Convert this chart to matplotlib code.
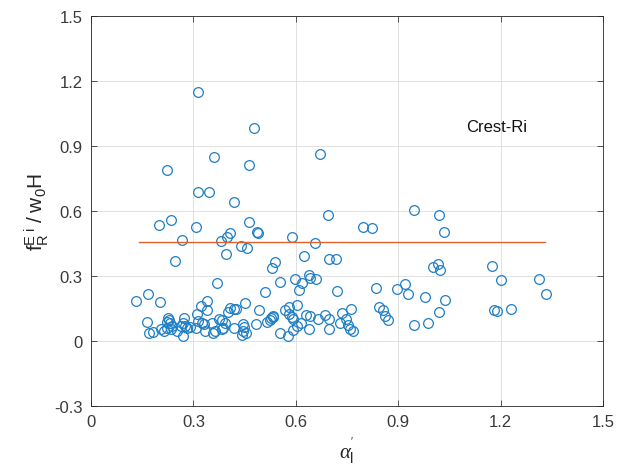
import matplotlib
matplotlib.use('Agg')
import matplotlib.pyplot as plt

plt.rcParams['font.family'] = ['Liberation Sans', 'DejaVu Sans']
plt.rcParams['mathtext.fontset'] = 'custom'
plt.rcParams['mathtext.rm'] = 'Liberation Sans'
plt.rcParams['mathtext.it'] = 'Liberation Serif:italic'

# scatter data
alpha_l = [
    0.314, 0.478, 0.222, 0.360, 0.462, 0.672, 0.314, 0.347, 0.419,
    0.200, 0.235, 0.308, 0.462, 0.485, 0.490, 0.693, 0.796, 0.822,
    0.945, 1.019, 1.033, 0.267, 0.382, 0.398, 0.406, 0.589, 0.655,
    0.246, 0.396, 0.440, 0.457, 0.540, 0.623, 0.696, 0.718, 0.530,
    0.370, 0.554, 0.597, 0.638, 0.642, 0.659, 0.618, 0.610, 0.720, 0.509,
    1.001, 1.016, 1.023, 1.176, 1.200, 1.312, 1.332,
    0.835, 0.896, 0.921, 0.930, 0.979, 1.037, 1.020, 0.988, 0.946,
    0.845, 0.855, 0.861, 0.871, 1.181, 1.189, 1.231,
    0.132, 0.166, 0.203, 0.340, 0.322, 0.341, 0.311, 0.450,
    0.408, 0.419, 0.424, 0.400, 0.492, 0.532, 0.527,
    0.569, 0.581, 0.603, 0.581, 0.588, 0.593, 0.631, 0.616,
    0.666, 0.686, 0.697, 0.735, 0.762, 0.730, 0.746, 0.754, 0.759, 0.767,
    0.696, 0.639, 0.576, 0.554, 0.593, 0.642, 0.603,
    0.164, 0.170, 0.181, 0.205, 0.214, 0.222,
    0.225, 0.229, 0.224, 0.231, 0.238, 0.234,
    0.253, 0.263, 0.270, 0.272, 0.270, 0.275, 0.280, 0.290,
    0.308, 0.313, 0.324, 0.331, 0.334, 0.353, 0.356, 0.363, 0.383,
    0.376, 0.385, 0.393, 0.388, 0.420, 0.444, 0.448, 0.446, 0.442, 0.454,
    0.483, 0.515, 0.524, 0.534,
]
f_ratio = [
    1.148, 0.984, 0.788, 0.848, 0.814, 0.864, 0.689, 0.689, 0.640,
    0.537, 0.558, 0.527, 0.548, 0.505, 0.500, 0.581, 0.527, 0.521,
    0.603, 0.581, 0.504, 0.468, 0.462, 0.482, 0.500, 0.479, 0.452,
    0.370, 0.400, 0.437, 0.428, 0.365, 0.394, 0.378, 0.378, 0.335,
    0.269, 0.274, 0.285, 0.306, 0.292, 0.285, 0.269, 0.234, 0.231, 0.226,
    0.341, 0.354, 0.328, 0.346, 0.280, 0.285, 0.215,
    0.246, 0.241, 0.262, 0.215, 0.203, 0.188, 0.134, 0.083, 0.072,
    0.157, 0.144, 0.115, 0.095, 0.144, 0.138, 0.149,
    0.186, 0.215, 0.181, 0.186, 0.162, 0.141, 0.126, 0.177,
    0.154, 0.146, 0.149, 0.134, 0.143, 0.115, 0.105,
    0.143, 0.157, 0.166, 0.126, 0.111, 0.100, 0.118, 0.085,
    0.100, 0.118, 0.100, 0.131, 0.149, 0.085, 0.100, 0.072, 0.054, 0.046,
    0.057, 0.057, 0.023, 0.038, 0.049, 0.115, 0.069,
    0.089, 0.035, 0.043, 0.054, 0.046, 0.061,
    0.105, 0.095, 0.089, 0.082, 0.069, 0.054,
    0.046, 0.069, 0.085, 0.108, 0.023, 0.069, 0.061, 0.065,
    0.061, 0.092, 0.085, 0.077, 0.046, 0.085, 0.038, 0.046, 0.054,
    0.100, 0.095, 0.085, 0.061, 0.059, 0.080, 0.066, 0.046, 0.028, 0.038,
    0.077, 0.089, 0.097, 0.111,
]

# mean line
mean_x = [0.14, 1.33]
mean_y = [0.455, 0.455]

x_ticks = [0, 0.3, 0.6, 0.9, 1.2, 1.5]
y_ticks = [-0.3, 0, 0.3, 0.6, 0.9, 1.2, 1.5]
tick_labels_x = ['0', '0.3', '0.6', '0.9', '1.2', '1.5']
tick_labels_y = ['-0.3', '0', '0.3', '0.6', '0.9', '1.2', '1.5']

fig = plt.figure(figsize=(6.29, 4.77), dpi=100)
ax = fig.add_axes([0.1447, 0.1468, 0.814, 0.8176])

ax.plot(alpha_l, f_ratio, 'o', mfc='none', mec='#1f7fc4', ms=7, mew=0.9)
ax.plot(mean_x, mean_y, '-', color='#E0622A', lw=1.0)

ax.set_xlim(0, 1.5)
ax.set_ylim(-0.3, 1.5)
ax.set_xticks(x_ticks)
ax.set_xticklabels(tick_labels_x)
ax.set_yticks(y_ticks)
ax.set_yticklabels(tick_labels_y)
ax.grid(True, color='#dcdcdc', lw=0.6)
ax.set_axisbelow(True)
ax.tick_params(direction='in', top=True, right=True, length=4, width=0.6,
               labelsize=12, colors='#3a3a3a', pad=6)
for s in ax.spines.values():
    s.set_color('#262626')
    s.set_linewidth(0.6)

ax.text(1.10, 0.99, 'Crest-Ri', fontsize=12, ha='left', va='center', color='#111111')

ax.set_xlabel(r"$\alpha_{\mathrm{l}}^{'}$", fontsize=15, color='#262626')
ax.set_ylabel(r'$\mathrm{f_R^{E\ i}\ /\ w_0H}$', fontsize=15, color='#262626', labelpad=2)

fig.savefig('out.png', dpi=100)
